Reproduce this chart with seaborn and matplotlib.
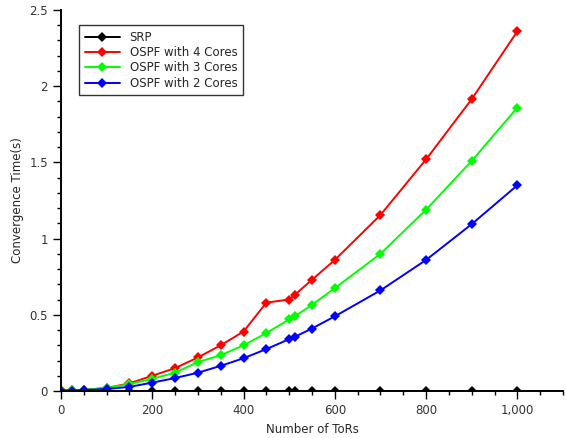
"""Convergence time vs number of ToRs."""

import matplotlib
matplotlib.use("Agg")
import matplotlib.pyplot as plt
import matplotlib.ticker as mticker
import pandas as pd
import seaborn as sns

tors = [0, 24, 50, 100, 150, 200, 250, 300, 350, 400, 450, 500, 512, 550, 600, 700, 800, 900, 1000]

srp = [0.0] * len(tors)
ospf4 = [0.005, 0.005, 0.008, 0.02, 0.05, 0.1, 0.15, 0.22, 0.3, 0.39, 0.58, 0.6, 0.63,
         0.73, 0.86, 1.155, 1.52, 1.915, 2.36]
ospf3 = [0.004, 0.004, 0.007, 0.02, 0.045, 0.08, 0.12, 0.19, 0.235, 0.3, 0.38, 0.47, 0.49,
         0.565, 0.675, 0.9, 1.19, 1.51, 1.86]
ospf2 = [0.003, 0.003, 0.006, 0.013, 0.027, 0.055, 0.085, 0.12, 0.165, 0.215, 0.275, 0.34,
         0.355, 0.41, 0.49, 0.66, 0.86, 1.095, 1.35]

series_names = ["SRP", "OSPF with 4 Cores", "OSPF with 3 Cores", "OSPF with 2 Cores"]
series_values = [srp, ospf4, ospf3, ospf2]
colors = ["black", "#ff0000", "#00ff00", "#0000ff"]


def main() -> None:
    sns.set_style("ticks")
    plt.rcParams["font.family"] = ["DejaVu Sans"]

    df = pd.concat(
        [pd.DataFrame({"tors": tors, "time": vals, "series": name})
         for name, vals in zip(series_names, series_values)],
        ignore_index=True,
    )

    fig = plt.figure(figsize=(5.66, 4.38), dpi=100)
    ax = fig.add_axes([61 / 566, 47 / 438, 502 / 566, 381 / 438])

    sns.lineplot(
        data=df, x="tors", y="time", hue="series", hue_order=series_names,
        palette=colors, marker="D", markersize=5, markeredgewidth=0,
        linewidth=1.4, ax=ax, legend=True,
    )

    ax.set_xlim(0, 1100)
    ax.set_ylim(0, 2.5)
    ax.xaxis.set_major_locator(mticker.MultipleLocator(200))
    ax.xaxis.set_minor_locator(mticker.MultipleLocator(50))
    ax.yaxis.set_major_locator(mticker.MultipleLocator(0.5))
    ax.yaxis.set_minor_locator(mticker.MultipleLocator(0.1))
    ax.xaxis.set_major_formatter(mticker.StrMethodFormatter("{x:,.0f}"))
    ax.yaxis.set_major_formatter(mticker.StrMethodFormatter("{x:g}"))

    ax.tick_params(which="major", length=6, width=1, direction="out", labelsize=8.5,
                   colors="black", labelcolor="#333333")
    ax.tick_params(which="minor", length=3, width=1, direction="out", colors="black")

    sns.despine(ax=ax)
    for side in ("left", "bottom"):
        ax.spines[side].set_linewidth(1.4)
        ax.spines[side].set_color("black")

    ax.set_xlabel("Number of ToRs", fontsize=8.5)
    ax.set_ylabel("Convergence Time(s)", fontsize=8.5)

    leg = ax.legend(loc="upper left", bbox_to_anchor=(0.025, 0.975), fontsize=8.5,
                    frameon=True, fancybox=False, borderpad=0.45, handlelength=3,
                    labelspacing=0.2)
    leg.get_frame().set_edgecolor("black")
    leg.get_frame().set_linewidth(1)

    fig.savefig("out.png", dpi=100)
    plt.close(fig)


if __name__ == "__main__":
    main()
